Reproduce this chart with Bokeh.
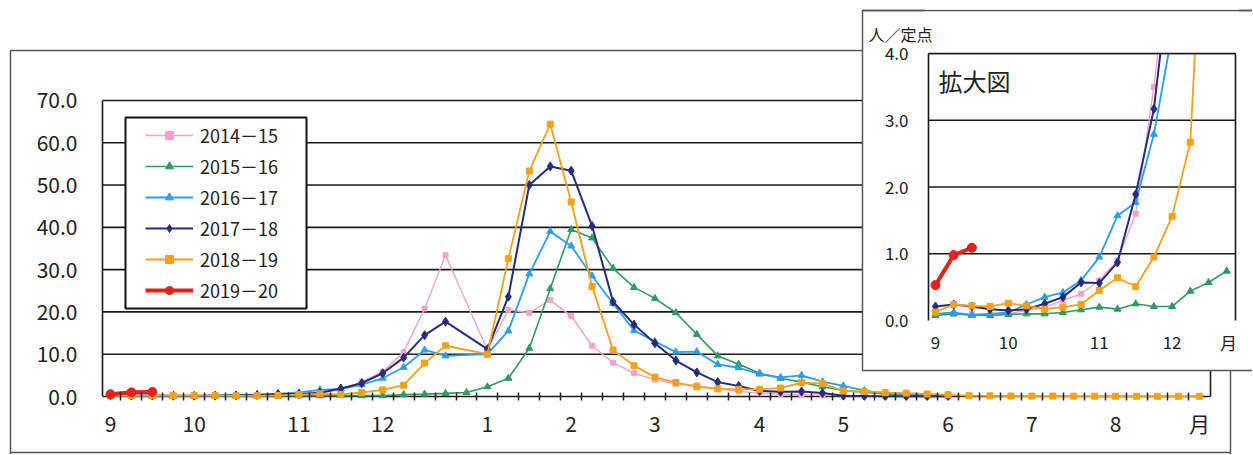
from bokeh.plotting import figure
from bokeh.models import Range1d, FixedTicker, PrintfTickFormatter, Legend, LegendItem, Label
from bokeh.core.properties import value
from bokeh.embed import file_html
from bokeh.resources import INLINE

N = None
# week slots: week 36..53 of the first year, then week 1..35
week_nums = list(range(36, 54)) + list(range(1, 36))
month_ticks = [0, 4, 9, 13, 18, 22, 26, 31, 35, 40, 44, 48, 52]
month_labels = ["9", "10", "11", "12", "1", "2", "3", "4", "5", "6", "7", "8", "月"]
inset_month_ticks = [0, 4, 9, 13, 16.1]
inset_month_labels = ["9", "10", "11", "12", "月"]
y_ticks = [0, 10, 20, 30, 40, 50, 60, 70]
inset_y_ticks = [0, 1, 2, 3, 4]
inset_last = 16

season_labels = ["2014－15", "2015－16", "2016－17", "2017－18", "2018－19", "2019－20"]

v2014 = [0.1, 0.1, 0.1, 0.1, 0.1, 0.15, 0.2, 0.3, 0.4, 0.6, 0.9, 1.6, 3.5, 5.8, 10.5, 20.8, 33.4,
         N,
         11.0, 20.5, 19.8, 22.8, 19.0, 12.0, 8.0, 5.5, 4.0, 3.0, 2.6, 1.8, 1.2, 0.8, 0.6, 0.4, 0.3,
         0.2, 0.15, 0.1, 0.1, 0.1, 0.1] + [N] * 12
v2015 = [0.075, 0.1, 0.08, 0.075, 0.09, 0.1, 0.1, 0.12, 0.16, 0.2, 0.17, 0.25, 0.21, 0.21, 0.44, 0.57, 0.74,
         0.95,
         2.3, 4.3, 11.4, 25.5, 39.5, 37.5, 30.3, 25.8, 23.2, 19.8, 14.7, 9.6, 7.6, 5.5, 4.3, 3.4, 2.3,
         1.4, 1.0, 0.6, 0.4, 0.3, 0.2] + [N] * 12
v2016 = [0.1, 0.12, 0.08, 0.1, 0.12, 0.24, 0.35, 0.42, 0.6, 0.95, 1.57, 1.77, 2.79, 4.3, 6.9, 11.0, 9.6,
         N,
         10.0, 15.5, 29.0, 39.0, 35.6, 28.5, 22.0, 15.6, 13.0, 10.5, 10.6, 7.6, 6.8, 5.3, 4.5, 5.0, 3.5,
         2.5, 1.4, 0.8, 0.5, 0.3, 0.2] + [N] * 12
v2017 = [0.21, 0.24, 0.21, 0.17, 0.15, 0.17, 0.25, 0.35, 0.57, 0.56, 0.87, 1.89, 3.17, 5.5, 9.2, 14.5, 17.7,
         N,
         11.2, 23.6, 50.0, 54.4, 53.4, 40.3, 22.4, 17.0, 12.6, 8.5, 5.7, 3.4, 2.5, 1.3, 1.1, 1.2, 0.8,
         0.2, 0.1, 0.05, 0.05, 0.05, 0.05] + [N] * 12
v2018 = [0.125, 0.24, 0.22, 0.21, 0.26, 0.22, 0.17, 0.2, 0.24, 0.45, 0.64, 0.51, 0.95, 1.56, 2.67, 7.9, 12.0,
         N,
         10.0, 32.6, 53.3, 64.4, 46.0, 26.0, 11.0, 7.3, 4.6, 3.3, 2.3, 1.8, 1.7, 1.7, 2.0, 3.3, 3.1,
         1.3, 1.2, 0.9, 0.8, 0.6, 0.4,
         0.2, 0.15, 0.12, 0.1, 0.1, 0.08, 0.08, 0.06, 0.06, 0.05, 0.05, 0.05]
v2019 = [0.53, 0.98, 1.09] + [N] * 50

series = [v2014, v2015, v2016, v2017, v2018, v2019]
colors = ["#f4a3c4", "#2f9a62", "#2e9cf0", "#262c7a", "#f6a11c", "#e1231c"]
markers = ["square", "triangle", "triangle", "diamond", "square", "circle"]
msizes = [5, 7, 7, 9, 6, 9]
lwidths = [1.4, 1.6, 1.8, 2.0, 1.8, 4.0]

FONT = "Noto Sans CJK JP"

# page-pixel -> data helpers (decoration placement only)
def mx(px): return (px - 110) / 20.94
def my(py): return (396 - py) / 4.229
def ix(px): return (px - 935) / 18.2
def iy(py): return (320 - py) / 66.75

W, H = 1252, 454
FL, FR, FT, FB = 102, W, 0, 400

p = figure(width=W, height=H, output_backend="svg", toolbar_location=None,
           x_range=Range1d(mx(FL), mx(FR)), y_range=Range1d(my(FB), my(FT)),
           min_border_left=FL, min_border_right=0, min_border_top=0, min_border_bottom=H - FB,
           background_fill_color="white", border_fill_color="white")
p.extra_x_ranges = {"ix": Range1d(ix(FL), ix(FR))}
p.extra_y_ranges = {"iy": Range1d(iy(FB), iy(FT))}
p.outline_line_color = None
p.xgrid.visible = False
p.ygrid.visible = False

# axes
p.yaxis.ticker = FixedTicker(ticks=y_ticks)
p.yaxis.formatter = PrintfTickFormatter(format="%.1f")
p.yaxis.bounds = (0, 70)
p.yaxis.axis_line_color = "#1a1a1a"
p.yaxis.axis_line_width = 1.6
p.yaxis.major_tick_in = 0
p.yaxis.major_tick_out = 0
p.yaxis.minor_tick_line_color = None
p.yaxis.major_label_standoff = 25
p.yaxis.major_label_text_font = FONT
p.yaxis.major_label_text_font_size = "21px"
p.yaxis.major_label_text_color = "#222222"

p.xaxis.ticker = FixedTicker(ticks=month_ticks, minor_ticks=[k + 0.5 for k in range(len(week_nums) - 1)])
p.xaxis.major_label_overrides = {t: lab for t, lab in zip(month_ticks, month_labels)}
p.xaxis.axis_line_color = None
p.xaxis.major_tick_in = 0
p.xaxis.major_tick_out = 0
p.xaxis.minor_tick_in = 8
p.xaxis.minor_tick_out = 0
p.xaxis.minor_tick_line_color = "#222222"
p.xaxis.minor_tick_line_width = 1.5
p.xaxis.major_label_standoff = 7
p.xaxis.major_label_text_font = FONT
p.xaxis.major_label_text_font_size = "21px"
p.xaxis.major_label_text_color = "#222222"

# main grid lines and right border
x_left, x_right = mx(FL), mx(1210)
p.segment(x0=[x_left] * len(y_ticks), x1=[x_right] * len(y_ticks), y0=y_ticks, y1=y_ticks,
          line_color="#1a1a1a", line_width=1.6)
p.segment(x0=[x_right], x1=[x_right], y0=[0], y1=[max(y_ticks)], line_color="#1a1a1a", line_width=1.6)

# legend box (drawn as a frame behind the legend entries)
p.quad(left=[mx(125)], right=[mx(306)], bottom=[my(308)], top=[my(117)], fill_color="white",
       line_color="#111111", line_width=2)

# main series
items = []
for lab, vals, c, m, ms, lw in zip(season_labels, series, colors, markers, msizes, lwidths):
    xs = [i for i, v in enumerate(vals) if v is not None]
    ys = [v for v in vals if v is not None]
    r1 = p.line(xs, ys, line_color=c, line_width=lw)
    r2 = p.scatter(xs, ys, marker=m, size=ms, fill_color=c, line_color=c)
    items.append(LegendItem(label=lab, renderers=[r1, r2]))

legend = Legend(items=items, location=(150 - 5 - FL, FB - 308 + 5), glyph_width=48, glyph_height=20,
                label_height=20, spacing=5, padding=5, label_standoff=7, margin=0,
                label_text_font=FONT, label_text_font_size="18px", label_text_color="#222222",
                border_line_color=None, background_fill_alpha=0.0)
p.add_layout(legend)

p.add_layout(Label(x=mx(22), y=my(73), text="人／定点", text_font=FONT, text_font_size="19px",
                   text_baseline="middle", text_align="left", text_color="#222222"))

# ---------- inset ----------
kw = dict(x_range_name="ix", y_range_name="iy")
box_l, box_r, box_b, box_t = ix(862), ix(1253), iy(370), iy(10)
p.quad(left=[box_l], right=[box_r], bottom=[box_b], top=[box_t], fill_color="white",
       line_color="#555555", line_width=1.5, **kw)
il, ir = ix(928), ix(1235)
gy = inset_y_ticks[1:]
p.segment(x0=[il] * len(gy), x1=[ir] * len(gy), y0=gy, y1=gy, line_color="#1a1a1a", line_width=1.6, **kw)

for vals, c, m, ms, lw in zip(series, colors, markers, msizes, lwidths):
    xs = [i for i, v in enumerate(vals[:inset_last + 1]) if v is not None]
    ys = [v for v in vals[:inset_last + 1] if v is not None]
    p.line(xs, ys, line_color=c, line_width=lw, **kw)
    p.scatter(xs, ys, marker=m, size=ms, fill_color=c, line_color=c, **kw)

# white cover above the 4.0 line (clips the inset curves), then restore borders
p.quad(left=[il - 0.2], right=[ir + 0.2], bottom=[max(inset_y_ticks)], top=[iy(-40)], fill_color="white",
       line_color=None, **kw)
p.quad(left=[il - 0.2], right=[ir + 0.2], bottom=[iy(9.1)], top=[iy(-40)], fill_color="white",
       line_color=None, level="overlay", **kw)
p.segment(x0=[box_l], x1=[box_r], y0=[box_t], y1=[box_t], line_color="#555555", line_width=1.5, **kw)
p.segment(x0=[il, ir, il], x1=[ir, ir, il], y0=[4, 0, 0], y1=[4, 4, 4],
          line_color="#1a1a1a", line_width=1.6, **kw)

p.text(x=[ix(908)] * len(inset_y_ticks), y=inset_y_ticks, text=["%.1f" % t for t in inset_y_ticks],
       text_font=value(FONT), text_font_size="17px", text_align="right", text_baseline="middle",
       text_color="#222222", **kw)
p.text(x=inset_month_ticks, y=[iy(342)] * len(inset_month_ticks), text=inset_month_labels,
       text_font=value(FONT), text_font_size="17px", text_align="center", text_baseline="middle",
       text_color="#222222", **kw)
p.text(x=[ix(868)], y=[iy(33)], text=["人／定点"], text_font=value(FONT), text_font_size="16px",
       text_align="left", text_baseline="middle", text_color="#222222", **kw)
p.text(x=[ix(938)], y=[iy(80)], text=["拡大図"], text_font=value(FONT), text_font_size="24px",
       text_align="left", text_baseline="middle", text_color="#222222", **kw)

# outer frame of the whole chart
p.multi_line(xs=[[mx(10), mx(10), mx(862)], [mx(1230), mx(1230)]],
             ys=[[my(470), my(50), my(50)], [my(370), my(470)]],
             line_color="#555555", line_width=1.5, level="overlay")
p.multi_line(xs=[[mx(10), mx(1230)]], ys=[[my(452), my(452)]],
             line_color="#555555", line_width=1.5, level="overlay")

open("out.html", "w").write(file_html(p, INLINE))
